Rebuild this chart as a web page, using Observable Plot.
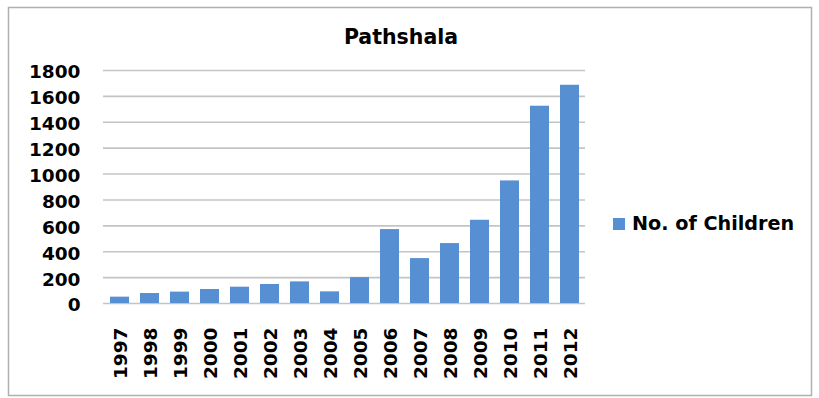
<!DOCTYPE html>
<html>
<head>
<meta charset="utf-8">
<script src="https://cdn.jsdelivr.net/npm/d3@7"></script>
<script src="https://cdn.jsdelivr.net/npm/@observablehq/plot@0.6"></script>
<style>
  html, body { margin: 0; padding: 0; background: #fff; }
  #chart { position: relative; width: 819px; height: 398px; }
</style>
</head>
<body>
<div id="chart"></div>
<script>
// Pathshala enrolment, number of children per year
const years = ["1997","1998","1999","2000","2001","2002","2003","2004",
               "2005","2006","2007","2008","2009","2010","2011","2012"];
const children = [49, 77, 88, 108, 126, 147, 167, 90,
                  200, 571, 347, 463, 643, 947, 1524, 1686];
const yTicks = [0, 200, 400, 600, 800, 1000, 1200, 1400, 1600, 1800];
const chartTitle = "Pathshala";
const seriesName = "No. of Children";

const barColor = "#5690D2";
const gridColor = "#c4c4c4";
const font = "DejaVu Sans";

const rows = years.map((year, i) => ({year, value: children[i]}));

const svg = Plot.plot({
  width: 819,
  height: 398,
  marginLeft: 103,
  marginRight: 234,
  marginTop: 70,
  marginBottom: 95,
  style: {fontFamily: font, fontWeight: "bold", color: "#000", background: "#fff"},
  x: {domain: years, paddingInner: 0.37, paddingOuter: 0.185, label: null},
  y: {domain: [0, 1800], label: null},
  marks: [
    Plot.ruleY(yTicks, {stroke: gridColor, strokeWidth: 1.6}),
    Plot.barY(rows, {x: "year", y: "value", fill: barColor}),
    Plot.axisY({ticks: yTicks, tickFormat: d => String(d), tickSize: 0, tickPadding: 23,
                label: null, fontSize: 18.5, fontWeight: "bold", dy: 2}),
    Plot.axisX({tickSize: 0, tickPadding: 24, tickRotate: -90, label: null,
                fontSize: 18.5, fontWeight: "bold", dx: 1})
  ]
});

const root = d3.select(svg);

// outer chart border
root.append("rect")
  .attr("x", 8.5).attr("y", 7.5)
  .attr("width", 803).attr("height", 388)
  .attr("fill", "none")
  .attr("stroke", "#b0b0b0")
  .attr("stroke-width", 1.5);

// title
root.append("text")
  .attr("x", 401).attr("y", 44)
  .attr("text-anchor", "middle")
  .attr("font-family", font)
  .attr("font-weight", "bold")
  .attr("font-size", 20.5)
  .attr("fill", "#000")
  .text(chartTitle);

// legend
const legend = root.append("g");
legend.append("rect")
  .attr("x", 613).attr("y", 218)
  .attr("width", 12).attr("height", 12)
  .attr("fill", barColor);
legend.append("text")
  .attr("x", 632).attr("y", 230)
  .attr("text-anchor", "start")
  .attr("font-family", font)
  .attr("font-weight", "bold")
  .attr("font-size", 19.2)
  .attr("fill", "#000")
  .text(seriesName);

document.getElementById("chart").appendChild(svg);
</script>
</body>
</html>
